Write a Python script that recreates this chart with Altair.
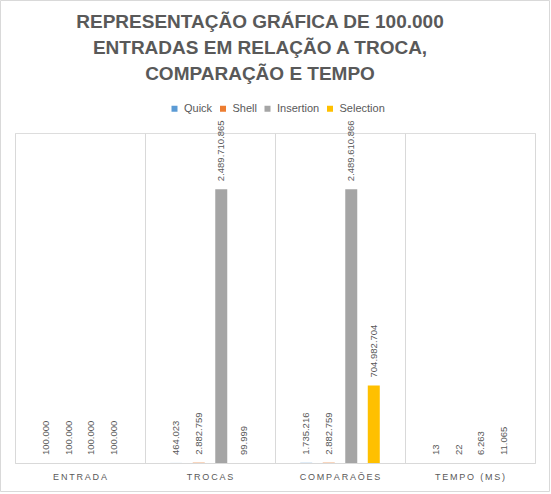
import altair as alt
import pandas as pd

categories = ["ENTRADA", "TROCAS", "COMPARAÕES", "TEMPO (MS)"]
series = ["Quick", "Shell", "Insertion", "Selection"]
colors = ["#5B9BD5", "#ED7D31", "#A5A5A5", "#FFC000"]

quick = [100000, 464023, 1735216, 13]
shell = [100000, 2882759, 2882759, 22]
insertion = [100000, 2489710865, 2489610866, 6263]
selection = [100000, 99999, 704982704, 11065]

rows = []
for s, vals in zip(series, [quick, shell, insertion, selection]):
    for c, v in zip(categories, vals):
        rows.append({"cat": c, "series": s, "value": v,
                     "label": f"{v:,}".replace(",", ".")})
df = pd.DataFrame(rows)

x = alt.X("cat:N", sort=categories,
          scale=alt.Scale(paddingInner=0, paddingOuter=0),
          axis=alt.Axis(title=None, ticks=False, bandPosition=0,
                        grid=True, gridColor="#D9D9D9", gridWidth=1,
                        domainColor="#D9D9D9", labelAngle=0,
                        labelColor="#595959", labelFont="Liberation Sans",
                        labelFontSize=9, labelPadding=9,
                        labelExpr="join(split(datum.label, ''), '\u2009')"))
# two empty slots at the ends of each group to reproduce the gap width
xo = alt.XOffset("series:N",
                 scale=alt.Scale(domain=["_l"] + series + ["_r"],
                                 paddingInner=0.467, paddingOuter=0.12))
y = alt.Y("value:Q", scale=alt.Scale(domain=[0, 3e9], nice=False),
          axis=alt.Axis(orient="right", title=None, labels=False, ticks=False,
                        grid=False, domain=True, domainColor="#D9D9D9"))

bars = alt.Chart(df).mark_bar().encode(
    x=x, xOffset=xo, y=y,
    color=alt.Color("series:N", sort=series,
                    scale=alt.Scale(domain=series, range=colors),
                    legend=alt.Legend(title=None, orient="none", direction="horizontal",
                                      legendX=154, legendY=-30,
                                      symbolType="square", symbolSize=36,
                                      symbolStrokeWidth=0,
                                      labelFont="Liberation Sans", labelFontSize=11,
                                      labelColor="#595959", labelOffset=4,
                                      columnPadding=4.5)),
)

text = alt.Chart(df).mark_text(angle=270, align="left", baseline="middle", dx=8,
                               font="Liberation Sans", fontSize=9.5,
                               color="#595959").encode(
    x=x, xOffset=xo, y=y, text="label:N")

frame = alt.Chart(pd.DataFrame({"f": [0]})).mark_rect(
    fill=None, stroke="#D9D9D9", strokeWidth=1).encode(
    x=alt.value(-14.5), x2=alt.value(534.5), y=alt.value(-132.5), y2=alt.value(358.5))

chart = alt.layer(frame, bars, text).properties(
    width=520, height=330,
    autosize=alt.AutoSizeParams(type="none"),
    padding={"left": 15, "top": 133, "right": 16, "bottom": 31},
    title=alt.TitleParams(
        text=["REPRESENTAÇÃO GRÁFICA DE 100.000",
              "ENTRADAS EM RELAÇÃO A TROCA,",
              "COMPARAÇÃO E TEMPO"],
        font="Liberation Sans", fontSize=19, fontWeight="bold",
        color="#595959", lineHeight=26, anchor="middle", dx=-15, offset=-84),
).configure_view(stroke=None).configure(background="white")

chart.save("out.html", embed_options={"renderer": "svg", "actions": False})
